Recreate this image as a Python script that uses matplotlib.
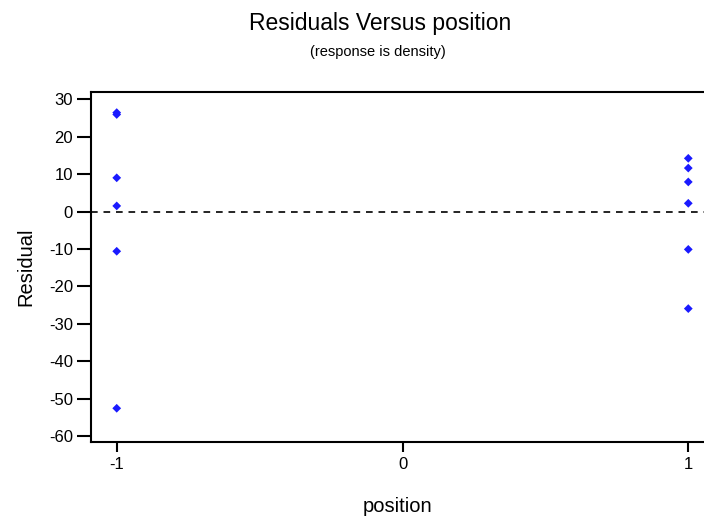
import matplotlib
matplotlib.use('Agg')
import matplotlib.pyplot as plt

plt.rcParams['font.family'] = ['Liberation Sans', 'DejaVu Sans']
plt.rcParams['axes.unicode_minus'] = False

# residuals, by position level
pos_left = [-1, -1, -1, -1, -1, -1]
res_left = [26.4, 25.9, 9.0, 1.5, -10.6, -52.5]
pos_right = [1, 1, 1, 1, 1, 1]
res_right = [14.2, 11.6, 7.9, 2.2, -10.1, -25.9]

x_ticks = [-1, 0, 1]
y_ticks = [30, 20, 10, 0, -10, -20, -30, -40, -50, -60]

fig = plt.figure(figsize=(7.04, 5.18), dpi=100)
# axes box runs off the right side of the picture
ax = fig.add_axes([91 / 704, 1 - 442 / 518, 1 - 91 / 704, (442 - 92) / 518])

ax.scatter(pos_left + pos_right, res_left + res_right, marker='D', s=20,
           color='#1a1aff', edgecolors='none', zorder=3)
ax.axhline(0, color='black', linestyle=(0, (4, 3.5)), linewidth=1.2)

ax.set_xlim(-1.09, 1.055)
ax.set_ylim(-61.5, 31.9)
ax.set_xticks(x_ticks)
ax.set_yticks(y_ticks)
ax.tick_params(axis='y', direction='out', length=10, width=1.5, labelsize=12, pad=3)
ax.tick_params(axis='x', direction='out', length=7, width=1.5, labelsize=12, pad=4)
for s in ['left', 'top', 'bottom']:
    ax.spines[s].set_linewidth(1.5)
ax.spines['right'].set_visible(False)

ax.set_xlabel('position', fontsize=14.5, labelpad=18)
ax.set_ylabel('Residual', fontsize=14.5, labelpad=10)

fig.text(380 / 704, 1 - 30 / 518, 'Residuals Versus position', ha='center', va='baseline', fontsize=16.5)
fig.text(378 / 704, 1 - 56 / 518, '(response is density)', ha='center', va='baseline', fontsize=10.5)

fig.savefig('out.png', dpi=100)
